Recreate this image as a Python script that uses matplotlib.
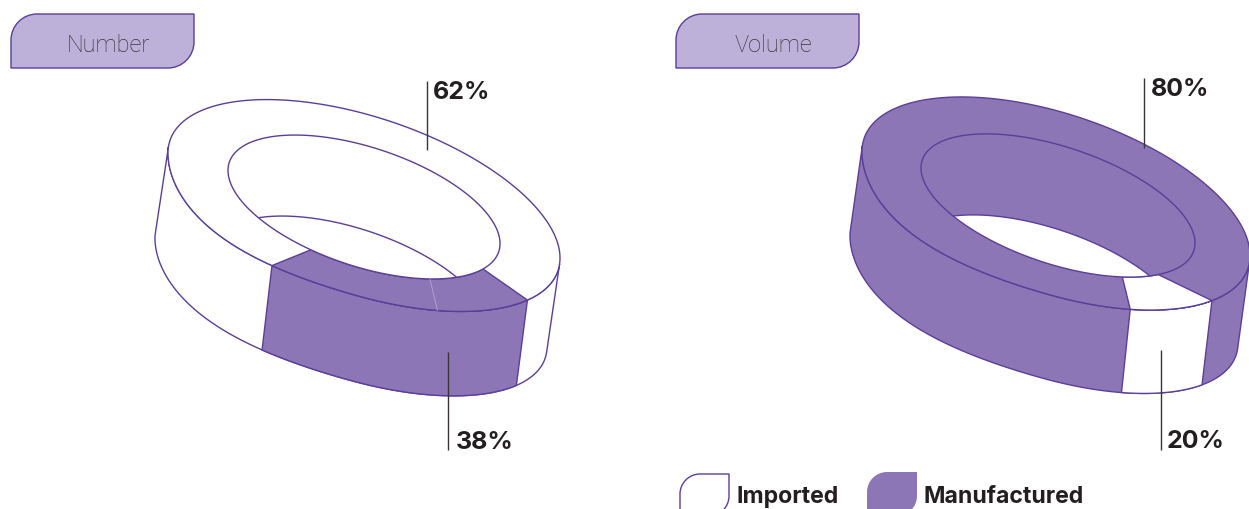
import numpy as np
import matplotlib
matplotlib.use("Agg")
import matplotlib.pyplot as plt
from matplotlib.patches import Polygon, PathPatch
from matplotlib.path import Path

# data
panels = ["Number", "Volume"]
imported_share = [62, 80]
manufactured_share = [38, 20]
imported_label = ["62%", "80%"]
manufactured_label = ["38%", "20%"]
legend_labels = ["Imported", "Manufactured"]

PURPLE = "#8D76B6"
LINE = "#5B3E9A"
TAB = "#BDB1D9"
TXT = "#231F20"

plt.rcParams["font.family"] = ["Inter", "DejaVu Sans"]
fig = plt.figure(figsize=(12.49, 5.09), dpi=100, facecolor="white")
ax = fig.add_axes([0, 0, 1, 1])
ax.set_xlim(0, 1249)
ax.set_ylim(509, 0)
ax.axis("off")


def ell(c, e1, ey, deg, bump=0.0):
    t = np.radians(deg)
    y = c[1] + e1[1] * np.cos(t) + ey * np.sin(t)
    y = y + bump * np.clip(-np.cos(t), 0, None) ** 2 * np.clip(np.sin(t), 0, None)
    return np.column_stack([c[0] + e1[0] * np.cos(t), y])


def drop(pts, deg, ext):
    s = np.sin(np.radians(deg))[:, None]
    return pts + np.asarray(ext, float) + s * np.array([3.5, -3.0])


def tab(x0, y0, x1, y1, r, **kw):
    k = 0.45 * r
    v = [(x0, y1), (x0, y0 + r), (x0, y0 + k), (x0 + k, y0), (x0 + r, y0), (x1, y0),
         (x1, y1 - r), (x1, y1 - k), (x1 - k, y1), (x1 - r, y1), (x0, y1), (x0, y1)]
    c = [Path.MOVETO, Path.LINETO, Path.CURVE4, Path.CURVE4, Path.CURVE4, Path.LINETO,
         Path.LINETO, Path.CURVE4, Path.CURVE4, Path.CURVE4, Path.LINETO, Path.CLOSEPOLY]
    ax.add_patch(PathPatch(Path(v, c), **kw))


def donut(co, e1o, eyo, exto, ci, e1i, eyi, exti, base, seg, to, ti, seam=None):
    lw = 1.0
    bump = 18.0
    cr = lambda a, b: a[0] * b[1] - a[1] * b[0]
    t1 = np.degrees(np.arctan2(cr((0, eyo), exto), cr(e1o, exto)))
    # outer wall
    d = np.linspace(t1, t1 + 180, 200)
    arc = ell(co, e1o, eyo, d, bump)
    wall = np.vstack([arc, drop(arc, d, exto)[::-1]])
    ax.add_patch(Polygon(wall, closed=True, fc=base, ec=LINE, lw=lw, zorder=2))
    d = np.linspace(to[0], to[1], 80)
    a = ell(co, e1o, eyo, d, bump)
    ax.add_patch(Polygon(np.vstack([a, drop(a, d, exto)[::-1]]), closed=True, fc=seg, ec=LINE, lw=lw, zorder=3))
    # top face
    full = np.linspace(0, 360, 361)
    ax.add_patch(Polygon(ell(co, e1o, eyo, full, bump), closed=True, fc=base, ec=LINE, lw=lw, zorder=4))
    b = ell(ci, e1i, eyi, np.linspace(ti[0], ti[1], 80))
    ax.add_patch(Polygon(np.vstack([a, b[::-1]]), closed=True, fc=seg, ec=LINE, lw=lw, zorder=5))
    # hole: far wall, then see-through area
    ax.add_patch(Polygon(ell(ci, e1i, eyi, full), closed=True, fc=base, ec="none", zorder=6))
    clip = Polygon(ell(ci, e1i, eyi, full), closed=True, transform=ax.transData)
    hole = Polygon(ell(ci, e1i, eyi, full) + exti, closed=True, fc="white", ec=LINE, lw=lw, zorder=7)
    ax.add_patch(hole)
    hole.set_clip_path(clip)
    ax.add_patch(Polygon(ell(ci, e1i, eyi, full), closed=True, fc="none", ec=LINE, lw=lw, zorder=8))
    if seam is not None:
        s = np.vstack([ell(ci, e1i, eyi, [seam[0]]), ell(co, e1o, eyo, [seam[1]], bump)])
        ax.plot(s[:, 0], s[:, 1], color="#B4A6D2", lw=0.6, zorder=9)


donut((364, 205.5), (196, 52.5), 92, (-13, 87), (364, 207), (136, 36.5), 62, (-13, 81),
      "white", PURPLE, (33.5, 118), (29, 113), seam=(61, 68))
donut((1056, 203.5), (194, 52), 93, (-12, 86), (1058, 205.5), (137, 37.5), 61, (-13, 81),
      PURPLE, "white", (36.5, 67.5), (43, 62))

# leader lines and value labels
leaders = [(427, 81, 150), (448, 352, 450), (1144, 78, 148), (1161, 350, 450)]
for x, y0, y1 in leaders:
    ax.plot([x, x], [y0, y1], color="#3A3436", lw=1.0, zorder=10, solid_capstyle="butt")
lab_kw = dict(fontsize=18, fontweight="bold", color=TXT, va="center", ha="left", zorder=11)
ax.text(433, 92.5, imported_label[0], **lab_kw)
ax.text(456, 442.5, manufactured_label[0], **lab_kw)
ax.text(1151, 89.5, imported_label[1], **lab_kw)
ax.text(1167, 441.5, manufactured_label[1], **lab_kw)

# panel tabs
for x0, name in zip((11, 676), panels):
    tab(x0, 14, x0 + 183, 68, 26, fc=TAB, ec=LINE, lw=1.0, zorder=2)
    ax.text(x0 + 97, 45, name, fontsize=17, fontweight="light", family="Roboto",
            color="#3A3436", ha="center", va="center", zorder=3)

# legend
tab(680, 474, 729, 516, 20, fc="white", ec=LINE, lw=1.0, zorder=2)
tab(867, 472, 917, 516, 20, fc=PURPLE, ec="none", zorder=2)
leg_kw = dict(fontsize=16.6, fontweight="bold", color=TXT, va="center", ha="left")
ax.text(737, 497, legend_labels[0], **leg_kw)
ax.text(924, 497, legend_labels[1], **leg_kw)

fig.savefig("out.png", dpi=100)
